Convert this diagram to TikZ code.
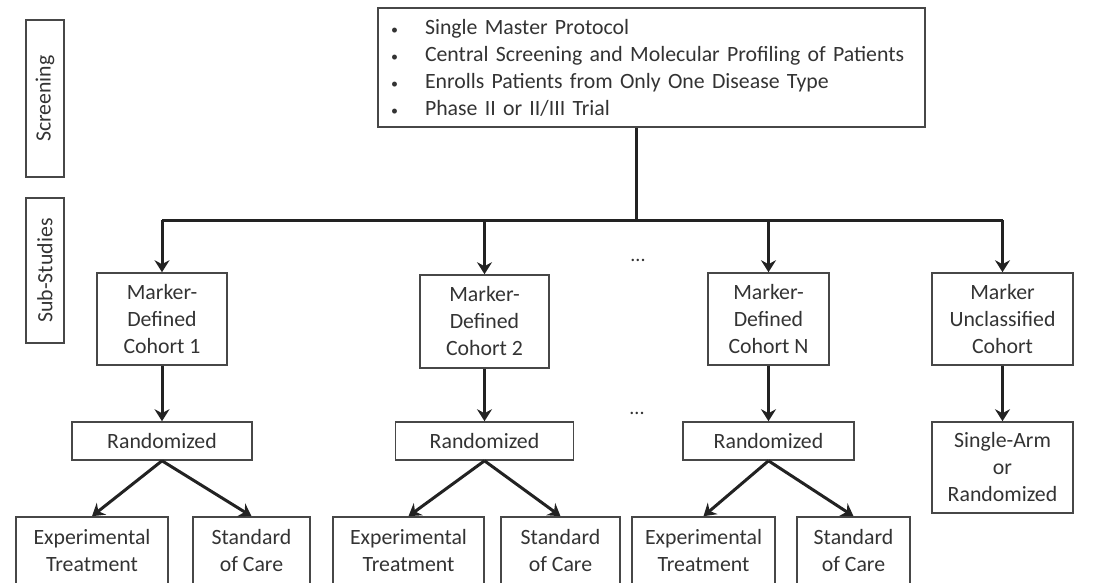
\documentclass[tikz,border=0pt]{standalone}
\usepackage{fontspec}
\setmainfont{Carlito}
\usetikzlibrary{arrows.meta}
\definecolor{txt}{HTML}{333333}
\definecolor{edge}{HTML}{474747}
\definecolor{flow}{HTML}{222222}
\newcommand{\pbul}{\makebox[35pt][l]{\hspace{1pt}{\fontsize{14}{14}\selectfont\textbullet}}}
\begin{document}
\begin{tikzpicture}[x=1pt,y=-1pt,
  every node/.style={text=txt,font=\fontsize{21.8}{27}\selectfont},
  box/.style={draw=edge,line width=1.6pt,rectangle,align=center,inner sep=0pt},
  link/.style={draw=flow,line width=3pt},
  arr/.style={link,-{Stealth[length=12pt,width=15pt,inset=4pt]}},
  dots/.style={anchor=base,font=\fontsize{20}{20}\selectfont}]
\useasboundingbox (0,0) rectangle (1112,582);
\clip (0,0) rectangle (1112,582);

% phase labels on the left
\node[box,rotate=90,minimum width=157pt,minimum height=38pt] (scr) at (45,98.5) {Screening};
\node[box,rotate=90,minimum width=145pt,minimum height=38pt] (sub) at (45,270.5) {Sub-Studies};

% master protocol box
\node[box,align=left,minimum width=547pt,minimum height=119pt,text width=523pt] (top) at (651.5,67.5)
 {\pbul Single Master Protocol\\
  \pbul Central Screening and Molecular Profiling of Patients\\
  \pbul Enrolls Patients from Only One Disease Type\\
  \pbul Phase II or II/III Trial};

% cohorts
\node[box,minimum width=130pt,minimum height=92pt] (c1) at (162,319) {Marker-\\Defined\\Cohort 1};
\node[box,minimum width=129pt,minimum height=93pt] (c2) at (484.5,321.5) {Marker-\\Defined\\Cohort 2};
\node[box,minimum width=121pt,minimum height=92pt] (cn) at (768.5,319) {Marker-\\Defined\\Cohort N};
\node[box,minimum width=141pt,minimum height=92pt] (cu) at (1002.5,319) {Marker\\Unclassified\\Cohort};

% randomization
\node[box,minimum width=180pt,minimum height=38pt] (r1) at (162,441) {Randomized};
\node[box,minimum width=178pt,minimum height=38pt] (r2) at (484.5,441) {Randomized};
\node[box,minimum width=171pt,minimum height=38pt] (rn) at (768.5,441) {Randomized};
\node[box,minimum width=141pt,minimum height=91pt] (ru) at (1002.5,467.5) {Single-Arm\\or\\Randomized};

% treatment arms
\node[box,minimum width=152pt,minimum height=68pt] (e1) at (92,551) {Experimental\\Treatment};
\node[box,minimum width=117pt,minimum height=68pt] (s1) at (251.5,551) {Standard\\of Care};
\node[box,minimum width=151pt,minimum height=68pt] (e2) at (408.5,551) {Experimental\\Treatment};
\node[box,minimum width=119pt,minimum height=68pt] (s2) at (560.5,551) {Standard\\of Care};
\node[box,minimum width=143pt,minimum height=68pt] (en) at (703.5,551) {Experimental\\Treatment};
\node[box,minimum width=113pt,minimum height=68pt] (sn) at (853.5,551) {Standard\\of Care};

% ellipses between cohort N and the others
\node[dots] (d1) at (638,261) {...};
\node[dots] (d2) at (637,414) {...};

% distribution bus
\coordinate (bus) at (636,220);
\draw[link] (top.south -| bus) -- (bus);
\draw[link] (c1.north |- bus) -- (cu.north |- bus);
\draw[arr] (c1.north |- bus) -- (c1.north);
\draw[arr] (c2.north |- bus) -- (c2.north);
\draw[arr] (cn.north |- bus) -- (cn.north);
\draw[arr] (cu.north |- bus) -- (cu.north);

% cohort to randomization
\draw[arr] (c1.south) -- (r1.north);
\draw[arr] (c2.south) -- (r2.north);
\draw[arr] (cn.south) -- (rn.north);
\draw[arr] (cu.south) -- (ru.north);

% randomization to arms
\foreach \r/\e/\s in {r1/e1/s1,r2/e2/s2,rn/en/sn}{
  \draw[arr] (\r.south) -- (\e.north);
  \draw[arr] (\r.south) -- (\s.north);
}
\end{tikzpicture}
\end{document}
